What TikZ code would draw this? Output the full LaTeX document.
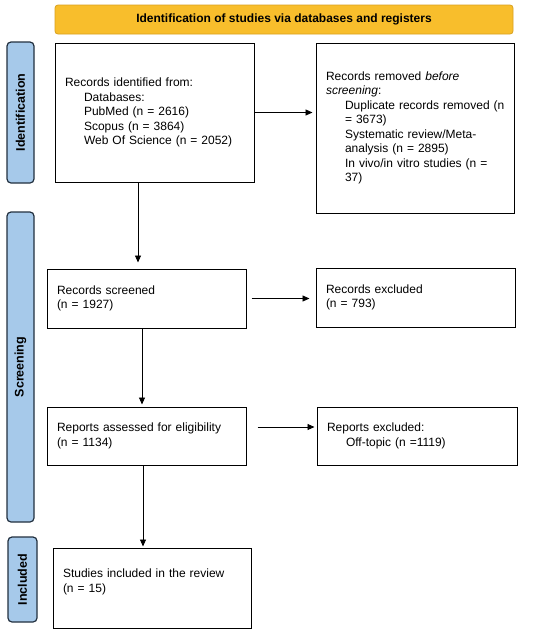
\documentclass[tikz,border=0pt]{standalone}
\usepackage{fontspec}
\setmainfont{Liberation Sans}
\usetikzlibrary{arrows.meta}
\definecolor{hdrfill}{HTML}{F8BE2C}
\definecolor{hdrdraw}{HTML}{D9A11E}
\definecolor{sidefill}{HTML}{A6C9EA}
\definecolor{sidedraw}{HTML}{22303F}
\tikzset{
  box/.style={draw=black, line width=1pt, fill=white, align=left, inner xsep=10pt,
    inner ysep=4pt, font=\fontsize{12}{14.5}\selectfont},
  sidebox/.style={draw=sidedraw, line width=1.2pt, fill=sidefill, rounded corners=4pt,
    rotate=90, font=\bfseries\fontsize{12.5}{14}\selectfont, inner sep=0pt},
  hdrbox/.style={draw=hdrdraw, line width=0.8pt, fill=hdrfill, rounded corners=3pt,
    font=\bfseries\fontsize{12}{14}\selectfont, inner sep=0pt},
  arr/.style={draw=black, line width=0.9pt, -{Triangle[length=7pt,width=6pt]}},
}
\newcommand{\ind}[1]{\mbox{\hspace*{19pt}#1}}
\begin{document}
\begin{tikzpicture}[x=1pt,y=-1pt]
\useasboundingbox[fill=white] (0,0) rectangle (550,635);
% header
\node[hdrbox, minimum width=458pt, minimum height=29pt] (hdr) at (284,19.5)
  {Identification of studies via databases and registers};
% side labels
\node[sidebox, minimum width=141pt, minimum height=27pt] (sid) at (20.5,112.5) {Identification};
\node[sidebox, minimum width=310pt, minimum height=27pt] (ssc) at (20.5,367) {Screening};
\node[sidebox, minimum width=85pt, minimum height=29pt] (sin) at (22.5,579.5) {Included};
% boxes
\node[box, text width=179pt, minimum height=139pt] (b1) at (154.5,112.5)
  {Records identified from:\\
   \ind{Databases:}\\
   \ind{PubMed (n = 2616)}\\
   \ind{Scopus (n = 3864)}\\
   \ind{Web Of Science (n = 2052)}};
\node[box, text width=178pt, minimum height=170pt] (b2) at (415,128)
  {Records removed \textit{before}\\
   \textit{screening}:\\
   \ind{Duplicate records removed (n}\\
   \ind{= 3673)}\\
   \ind{Systematic review/Meta-}\\
   \ind{analysis (n = 2895)}\\
   \ind{In vivo/in vitro studies (n =}\\
   \ind{37)}};
\node[box, text width=179pt, minimum height=59pt] (b3) at (146.5,298.5)
  {Records screened\\(n = 1927)};
\node[box, text width=179pt, minimum height=59pt] (b4) at (415.5,297.5)
  {Records excluded\\(n = 793)};
\node[box, text width=179pt, minimum height=58pt] (b5) at (146.5,436)
  {Reports assessed for eligibility\\(n = 1134)};
\node[box, text width=180pt, minimum height=58pt] (b6) at (417,436)
  {Reports excluded:\\\ind{Off-topic (n =1119)}};
\node[box, text width=178pt, minimum height=80pt] (b7) at (152,588)
  {Studies included in the review\\(n = 15)\\\mbox{}};
% connectors
\draw[arr, shorten >=3pt] (b1.east) -- (b1.east -| b2.west);
\draw[arr, shorten <=5pt, shorten >=6pt] (b3.east) -- (b3.east -| b4.west);
\draw[arr, shorten <=11pt, shorten >=2pt] ([yshift=9pt]b5.east) -- ([yshift=9pt]b5.east -| b6.west);
\draw[arr, shorten >=6pt] ([xshift=-16.5pt]b1.south) -- ([xshift=-16.5pt]b1.south |- b3.north);
\draw[arr, shorten >=2pt] ([xshift=-4.5pt]b3.south) -- ([xshift=-4.5pt]b3.south |- b5.north);
\draw[arr, shorten >=1pt] ([xshift=-3.5pt]b5.south) -- ([xshift=-3.5pt]b5.south |- b7.north);
\end{tikzpicture}
\end{document}
